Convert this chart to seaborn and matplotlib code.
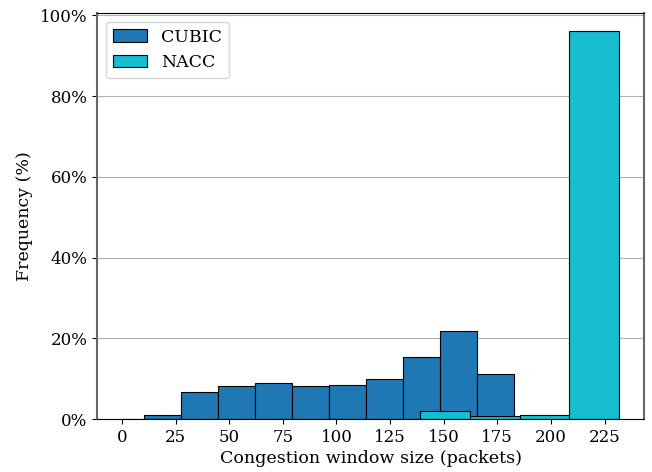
import numpy as np
import pandas as pd
import matplotlib
matplotlib.use("Agg")
import matplotlib.pyplot as plt
import seaborn as sns
from matplotlib.ticker import PercentFormatter

# bin edges and bar heights (%)
cubic_edges = [10.2, 27.45, 44.7, 61.95, 79.2, 96.45, 113.7, 130.95, 148.2, 165.45, 182.7]
cubic_freq = [1.1, 6.6, 8.3, 8.9, 8.3, 8.4, 10.0, 15.3, 21.8, 11.2]

nacc_edges = [0.0, 23.18, 46.36, 69.54, 92.72, 115.9, 139.08, 162.26, 185.44, 208.62, 231.8]
nacc_freq = [0, 0, 0, 0, 0, 0, 1.9, 0.7, 0.9, 96.1]

cubic = pd.DataFrame({
    "cwnd": [(a + b) / 2 for a, b in zip(cubic_edges[:-1], cubic_edges[1:])],
    "freq": cubic_freq,
})
nacc = pd.DataFrame({
    "cwnd": [(a + b) / 2 for a, b in zip(nacc_edges[:-1], nacc_edges[1:])],
    "freq": nacc_freq,
})

sns.set_style("ticks")
plt.rcParams["font.family"] = ["DejaVu Serif"]
plt.rcParams["text.color"] = "black"
plt.rcParams["axes.labelcolor"] = "black"
plt.rcParams["xtick.color"] = "black"
plt.rcParams["ytick.color"] = "black"

fig = plt.figure(figsize=(6.52, 4.72), dpi=100)
ax = fig.add_axes([97 / 652, 1 - 419 / 472, (644 - 97) / 652, (419 - 13) / 472])

sns.histplot(data=cubic, x="cwnd", weights="freq", bins=cubic_edges,
             color="#1f77b4", alpha=1, edgecolor="black", linewidth=0.8,
             label="CUBIC", ax=ax)
sns.histplot(data=nacc, x="cwnd", weights="freq", bins=nacc_edges,
             color="#17becf", alpha=1, edgecolor="black", linewidth=0.8,
             label="NACC", ax=ax)

ax.set_xlim(-11.6, 243.4)
ax.set_ylim(0, 100.6)
ax.set_xticks(range(0, 226, 25))
ax.set_yticks(range(0, 101, 20))
ax.yaxis.set_major_formatter(PercentFormatter(decimals=0))
ax.yaxis.grid(True, color="#b0b0b0", linewidth=0.8)
ax.set_axisbelow(True)
ax.tick_params(labelsize=12, length=3.5, pad=3.5, width=0.8, color="black")

for side in ["left", "right"]:
    ax.spines[side].set_color("#666666")
    ax.spines[side].set_linewidth(1.5)
for side in ["top", "bottom"]:
    ax.spines[side].set_color("black")
    ax.spines[side].set_linewidth(0.8)
    ax.spines[side].set_visible(True)
ax.spines["right"].set_visible(True)

ax.set_xlabel("Congestion window size (packets)", fontsize=12.6, labelpad=3)
ax.set_ylabel("Frequency (%)", fontsize=12.5, labelpad=5)
ax.legend(loc="upper left", fontsize=12.5, frameon=True, framealpha=0.8,
          edgecolor="#cccccc", fancybox=True, handlelength=2.0)

fig.savefig("out.png", dpi=100)
